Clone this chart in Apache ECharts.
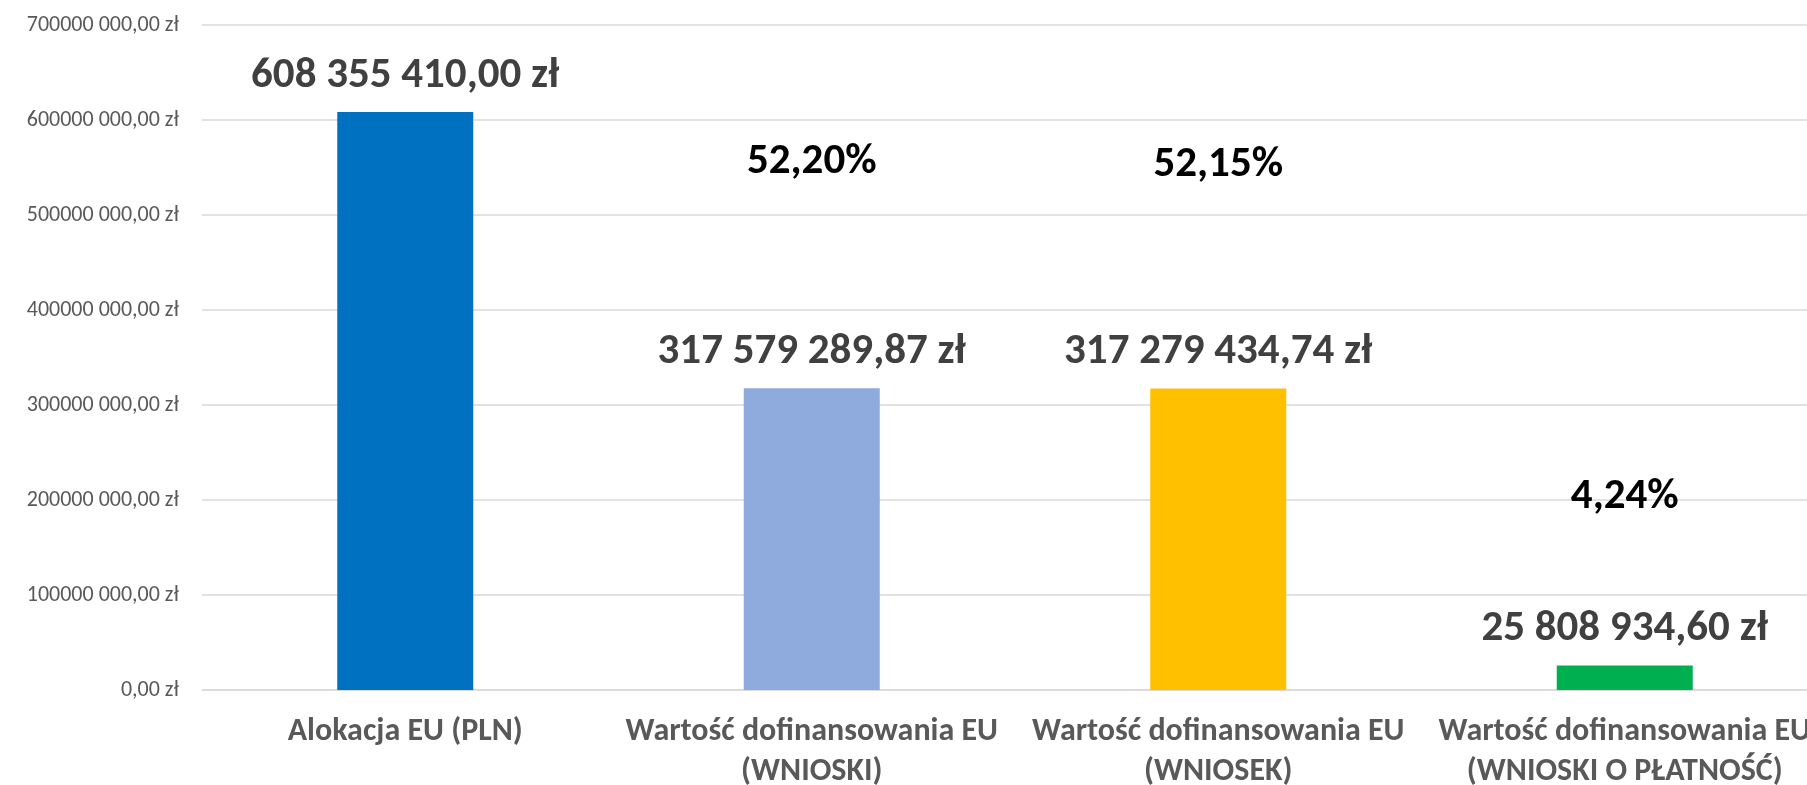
<!DOCTYPE html>
<html>
<head>
<meta charset="utf-8">
<script src="https://cdn.jsdelivr.net/npm/echarts@6/dist/echarts.min.js"></script>
<style>
  html, body { margin: 0; padding: 0; background: #fff; }
  #chart { width: 1807px; height: 785px; }
</style>
</head>
<body>
<div id="chart"></div>
<script>
  // kategorie (os X)
  var categories = [
    'Alokacja EU (PLN)',
    'Wartość dofinansowania EU\n(WNIOSKI)',
    'Wartość dofinansowania EU\n(WNIOSEK)',
    'Wartość dofinansowania EU\n(WNIOSKI O PŁATNOŚĆ)'
  ];
  // wartosci w zl
  var values = [608355410.00, 317579289.87, 317279434.74, 25808934.60];
  // procent realizacji alokacji
  var percents = ['', '52,20%', '52,15%', '4,24%'];
  var barColors = ['#0070C0', '#8FAADC', '#FFC000', '#00B050'];

  var FONT = 'Carlito, Lato, sans-serif';

  // 608355410 -> "608 355 410,00 zł"
  function kwota(v) {
    var parts = v.toFixed(2).split('.');
    var calk = parts[0].replace(/\B(?=(\d{3})+(?!\d))/g, ' ');
    return calk + ',' + parts[1] + ' zł';
  }
  // etykiety osi Y: "700000 000,00 zł"
  function osY(v) {
    if (v === 0) return '0,00 zł';
    var tys = Math.floor(v / 1000);
    var r = String(v % 1000);
    while (r.length < 3) r = '0' + r;
    return tys + ' ' + r + ',00 zł';
  }

  // odstep etykiety procentowej od szczytu slupka
  var pctDistance = [0, 202, 199, 144];

  var myChart = echarts.init(document.getElementById('chart'));
  var option = {
    animation: false,
    grid: { left: 202, right: -21, top: 25, bottom: 95, outerBoundsMode: 'none' },
    xAxis: {
      type: 'category',
      data: categories,
      axisTick: { show: false },
      axisLine: { lineStyle: { color: '#d9d9d9', width: 1.5 } },
      axisLabel: {
        interval: 0,
        margin: 22,
        color: '#595959',
        fontFamily: FONT,
        fontWeight: 'bold',
        fontSize: 32,
        lineHeight: 40
      }
    },
    yAxis: {
      type: 'value',
      min: 0,
      max: 700000000,
      interval: 100000000,
      axisLine: { show: false },
      axisTick: { show: false },
      splitLine: { lineStyle: { color: '#d9d9d9', width: 1.5 } },
      axisLabel: {
        margin: 23,
        color: '#595959',
        fontFamily: FONT,
        fontSize: 22,
        formatter: osY
      }
    },
    series: [
      {
        type: 'bar',
        barWidth: 136,
        data: values.map(function (v, i) {
          return { value: v, itemStyle: { color: barColors[i] } };
        }),
        label: {
          show: true,
          position: 'top',
          distance: 12,
          color: '#404040',
          fontFamily: FONT,
          fontWeight: 'bold',
          fontSize: 43,
          lineHeight: 48,
          formatter: function (p) { return kwota(p.value); }
        }
      },
      {
        type: 'bar',
        barWidth: 136,
        barGap: '-100%',
        silent: true,
        itemStyle: { color: 'transparent' },
        data: values.map(function (v, i) {
          return {
            value: v,
            label: { show: percents[i] !== '', distance: pctDistance[i] }
          };
        }),
        label: {
          show: true,
          position: 'top',
          color: '#000',
          fontFamily: FONT,
          fontWeight: 'bold',
          fontSize: 43,
          lineHeight: 48,
          formatter: function (p) { return percents[p.dataIndex]; }
        }
      }
    ]
  };
  myChart.setOption(option);
</script>
</body>
</html>
